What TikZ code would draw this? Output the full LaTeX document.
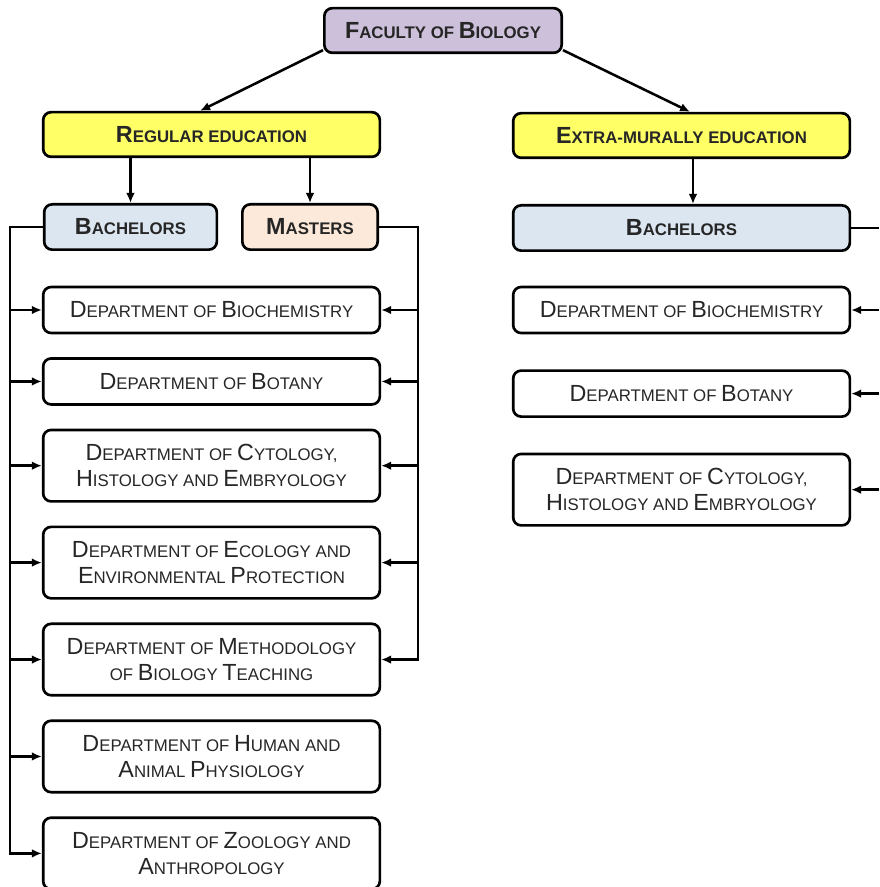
\documentclass[tikz,border=0pt]{standalone}
\usepackage{fontspec}
\setmainfont{Liberation Sans}
\usetikzlibrary{arrows.meta,positioning}
\usepackage{xcolor}

\definecolor{facultyfill}{RGB}{204,192,218}
\definecolor{headfill}{RGB}{255,255,102}
\definecolor{bachfill}{RGB}{220,230,241}
\definecolor{mastfill}{RGB}{253,233,217}

% big capital for the small-caps look
\newcommand\bigC[1]{{\fontsize{17.5}{19.5}\selectfont #1}}

\begin{document}
\begin{tikzpicture}[
            x=0.75pt, y=-0.75pt,
            node distance=17.1pt,
            box/.style={rectangle, draw, rounded corners=6pt, line width=2pt, align=center, inner sep=2pt, text=black!85, font=\fontsize{12.6}{19.5}\selectfont},
            faculty/.style={box, fill=facultyfill, minimum width=178pt, minimum height=33.5pt, font=\bfseries\fontsize{12.6}{19.5}\selectfont},
            head/.style={box, fill=headfill, minimum width=252.5pt, minimum height=33.5pt, font=\bfseries\fontsize{12.6}{19.5}\selectfont},
            level/.style={box, minimum height=34pt, font=\bfseries\fontsize{12.6}{19.5}\selectfont},
            dept/.style={box, fill=white, minimum width=252.5pt, minimum height=34.5pt},
            dept2/.style={dept, minimum height=53.6pt},
            line/.style={line width=1.9pt},
            arrow/.style={line, -{Latex[length=7.5pt,width=6.5pt]}}
        ]
            \useasboundingbox (0,0) rectangle (879,887);

            % --- TOP ---
            \node[faculty] (faculty) at (443,30.5) {\bigC{F}ACULTY OF \bigC{B}IOLOGY};

            \node[head] (regular) at (211.5,134.5) {\bigC{R}EGULAR EDUCATION};
            \node[head] (extra) at (681.5,135.5) {\bigC{E}XTRA-MURALLY EDUCATION};

            \node[level, fill=bachfill, minimum width=129.5pt] (bachL) at (130.5,227) {\bigC{B}ACHELORS};
            \node[level, fill=mastfill, minimum width=101.5pt] (masters) at (310,227) {\bigC{M}ASTERS};
            \node[level, fill=bachfill, minimum width=252.5pt] (bachR) at (681.5,228) {\bigC{B}ACHELORS};

            % --- REGULAR: DEPARTMENTS ---
            \node[dept] (biochemL) at (211.5,310) {\bigC{D}EPARTMENT OF \bigC{B}IOCHEMISTRY};
            \node[dept, below=of biochemL] (botanyL) {\bigC{D}EPARTMENT OF \bigC{B}OTANY};
            \node[dept2, below=of botanyL] (cytologyL) {\bigC{D}EPARTMENT OF \bigC{C}YTOLOGY,\\ \bigC{H}ISTOLOGY AND \bigC{E}MBRYOLOGY};
            \node[dept2, below=of cytologyL] (ecologyL) {\bigC{D}EPARTMENT OF \bigC{E}COLOGY AND\\ \bigC{E}NVIRONMENTAL \bigC{P}ROTECTION};
            \node[dept2, below=of ecologyL] (methodL) {\bigC{D}EPARTMENT OF \bigC{M}ETHODOLOGY\\ OF \bigC{B}IOLOGY \bigC{T}EACHING};
            \node[dept2, below=of methodL] (physioL) {\bigC{D}EPARTMENT OF \bigC{H}UMAN AND\\ \bigC{A}NIMAL \bigC{P}HYSIOLOGY};
            \node[dept2, below=of physioL] (zoologyL) {\bigC{D}EPARTMENT OF \bigC{Z}OOLOGY AND\\ \bigC{A}NTHROPOLOGY};

            % --- EXTRA-MURALLY: DEPARTMENTS ---
            \node[dept] (biochemR) at (681.5,310) {\bigC{D}EPARTMENT OF \bigC{B}IOCHEMISTRY};
            \node[dept, below=26.2pt of biochemR] (botanyR) {\bigC{D}EPARTMENT OF \bigC{B}OTANY};
            \node[dept2, below=26pt of botanyR] (cytologyR) {\bigC{D}EPARTMENT OF \bigC{C}YTOLOGY,\\ \bigC{H}ISTOLOGY AND \bigC{E}MBRYOLOGY};

            % bus lines
            \coordinate (lbus) at (10,0);
            \coordinate (mbus) at (418,0);
            \coordinate (rbus) at (879,0);

            % --- LINKS ---
            \draw[arrow] ([yshift=3pt]faculty.south west) -- ([xshift=-8.6pt]regular.north);
            \draw[arrow] ([yshift=3pt]faculty.south east) -- ([xshift=6.4pt]extra.north);

            \draw[arrow] (bachL.north |- regular.south) -- (bachL.north);
            \draw[arrow] (masters.north |- regular.south) -- (masters.north);
            \draw[arrow] ([xshift=8.6pt]extra.south) -- ([xshift=8.6pt]bachR.north);

            % bachelors (regular)
            \draw[arrow] (bachL.west) -- (bachL.west -| lbus) |- (zoologyL.west);
            \foreach \d in {biochemL,botanyL,cytologyL,ecologyL,methodL,physioL}
                \draw[arrow] (\d.west -| lbus) -- (\d.west);

            % masters
            \draw[arrow] (masters.east) -- (masters.east -| mbus) |- (methodL.east);
            \foreach \d in {biochemL,botanyL,cytologyL,ecologyL}
                \draw[arrow] (\d.east -| mbus) -- (\d.east);

            % bachelors (extra-murally)
            \draw[line] (bachR.east) -- (bachR.east -| rbus);
            \foreach \d in {biochemR,botanyR,cytologyR}
                \draw[arrow] (\d.east -| rbus) -- (\d.east);

        \end{tikzpicture}
\end{document}
